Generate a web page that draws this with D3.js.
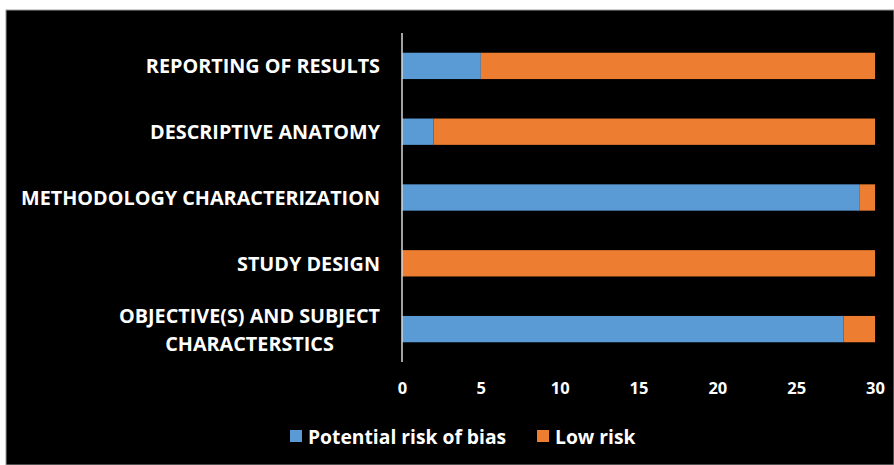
<!DOCTYPE html>
<html>
<head>
<meta charset="utf-8">
<script src="https://cdn.jsdelivr.net/npm/d3@7"></script>
<style>
  html, body { margin: 0; padding: 0; background: #ffffff; }
  svg { display: block; }
  text { font-family: "Open Sans", Lato, sans-serif; font-weight: 700; fill: #ffffff; }
</style>
</head>
<body>
<svg id="chart" width="894" height="465"></svg>
<script>
// Risk-of-bias assessment by domain (number of studies)
const categories = [
  "REPORTING OF RESULTS",
  "DESCRIPTIVE ANATOMY",
  "METHODOLOGY CHARACTERIZATION",
  "STUDY DESIGN",
  "OBJECTIVE(S) AND SUBJECT|CHARACTERSTICS"
];
const potentialRisk = [5, 2, 29, 0, 28];
const lowRisk = [25, 28, 1, 30, 2];
const seriesNames = ["Potential risk of bias", "Low risk"];
const seriesColors = ["#5b9bd5", "#ed7d31"];
const xTicks = [0, 5, 10, 15, 20, 25, 30];

const svg = d3.select("#chart");

// Page frame and dark chart area
svg.append("rect").attr("x", 0).attr("y", 0).attr("width", 894).attr("height", 465).attr("fill", "#ffffff");
svg.append("rect").attr("x", 6).attr("y", 10).attr("width", 888).attr("height", 455)
  .attr("fill", "#000000").attr("stroke", "#9a9a9a").attr("stroke-width", 1);

const x = d3.scaleLinear().domain([0, 30]).range([402, 875]);
const y = d3.scaleBand().domain(categories).range([33, 362]).paddingInner(0.6).paddingOuter(0.3);

const rows = categories.map((c, i) => ({ cat: c, vals: [potentialRisk[i], lowRisk[i]] }));
const stacked = d3.stack().keys([0, 1]).value((d, k) => d.vals[k])(rows);

svg.append("g").selectAll("g").data(stacked).join("g")
  .attr("fill", (d, i) => seriesColors[i])
  .selectAll("rect").data(d => d).join("rect")
  .attr("x", d => x(d[0]))
  .attr("width", d => x(d[1]) - x(d[0]))
  .attr("y", d => y(d.data.cat))
  .attr("height", y.bandwidth());

// Vertical category axis line
svg.append("line")
  .attr("x1", x(0)).attr("x2", x(0))
  .attr("y1", 33).attr("y2", 362)
  .attr("stroke", "#d9d9d9").attr("stroke-width", 1.5);

// Category labels (wrapped lines centred within a right-aligned block)
const labelRight = 380;
const lineGap = 28;
categories.forEach(c => {
  const lines = c.split("|");
  const cy = y(c) + y.bandwidth() / 2;
  const g = svg.append("g");
  const texts = lines.map((ln, j) => g.append("text")
    .attr("font-size", 19.8)
    .attr("dominant-baseline", "central")
    .attr("y", cy + (j - (lines.length - 1) / 2) * lineGap)
    .text(ln));
  const widths = texts.map(t => t.node().getComputedTextLength());
  const maxW = d3.max(widths);
  texts.forEach(t => t.attr("text-anchor", "middle").attr("x", labelRight - maxW / 2));
});

// Value axis tick labels
const xAxis = d3.axisBottom(x).tickValues(xTicks).tickSize(0).tickPadding(0);
const ax = svg.append("g").attr("transform", "translate(0,382)").call(xAxis);
ax.select(".domain").remove();
ax.selectAll("text").attr("font-size", 16.5).attr("fill", "#ffffff")
  .style("font-family", "'Open Sans', Lato, sans-serif").style("font-weight", 700);

// Legend
const legendItems = [{ x: 290 }, { x: 537 }];
legendItems.forEach((it, i) => {
  svg.append("rect").attr("x", it.x).attr("y", 430).attr("width", 12).attr("height", 12).attr("fill", seriesColors[i]);
  svg.append("text").attr("x", it.x + 18).attr("y", 436).attr("dominant-baseline", "central")
    .attr("font-size", 19.3).text(seriesNames[i]);
});
</script>
</body>
</html>
